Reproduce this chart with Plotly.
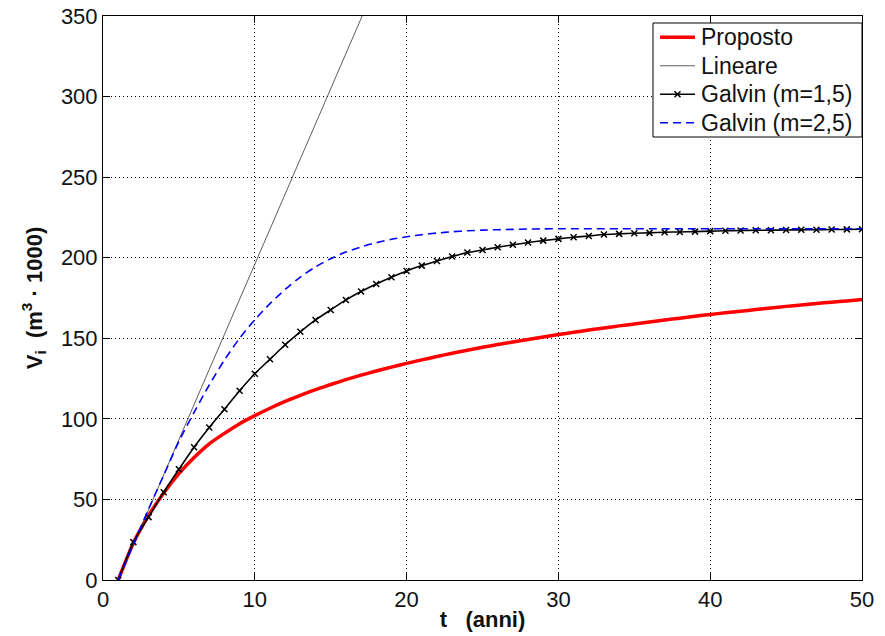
import plotly.graph_objects as go

# ---- data ----
t_years = list(range(1, 51))

proposto = [0, 23, 40, 54, 66, 76, 84.5, 91, 97, 102,
            106.6, 110.8, 114.6, 118.1, 121.3, 124.3, 127.1, 129.7, 132.1, 134.4,
            136.6, 138.7, 140.7, 142.6, 144.4, 146.1, 147.7, 149.3, 150.8, 152.3,
            153.7, 155.1, 156.4, 157.7, 158.9, 160.1, 161.3, 162.5, 163.7, 164.8,
            165.8, 166.8, 167.8, 168.8, 169.8, 170.7, 171.6, 172.4, 173.2, 174.0]

lin_t = [1, 50]
lin_v = [0, 1067]

galvin_15 = [0, 23.5, 39, 54.5, 68.7, 82.4, 94.6, 106, 117.5, 128,
             137, 146, 154, 161.4, 167.6, 173.8, 179, 183.7, 187.9, 191.8,
             195.1, 198, 200.7, 203.2, 204.8, 206.5, 208, 209.4, 210.6, 211.7,
             212.7, 213.5, 214.4, 214.8, 215.2, 215.4, 215.8, 216, 216.2, 216.5,
             216.7, 216.9, 217, 217.1, 217.2, 217.3, 217.4, 217.5, 217.6, 217.7]

galvin_25 = [0, 22, 44, 65, 86, 104, 121, 136.5, 150, 161.5,
             171.5, 180.3, 188, 194.3, 199.4, 203.5, 206.7, 209.3, 211.4, 213,
             214.3, 215.3, 216.1, 216.7, 217.1, 217.4, 217.6, 217.8, 217.9, 218,
             218, 218, 218, 218, 218, 218, 218, 218, 218, 218,
             218, 218, 218, 218, 218, 218, 218, 218, 218, 218]

series_names = ["Proposto", "Lineare", "Galvin (m=1,5)", "Galvin (m=2,5)"]

x_ticks = [0, 10, 20, 30, 40, 50]
y_ticks = [0, 50, 100, 150, 200, 250, 300, 350]

FONT = "Liberation Sans, Arial, sans-serif"
W, H = 885, 636
ML, MR, MT, MB = 103, 23, 16, 56
PW, PH = W - ML - MR, H - MT - MB

def px(xp):  # page pixel -> paper x
    return (xp - ML) / PW

def py(yp):  # page pixel -> paper y
    return (H - MB - yp) / PH

styles = [
    dict(color="#ff0000", width=3.5, dash="solid"),
    dict(color="#333333", width=0.8, dash="solid"),
    dict(color="black", width=1.6, dash="solid"),
    dict(color="#0000ff", width=1.6, dash="8px,5px"),
]

fig = go.Figure()
fig.add_trace(go.Scatter(x=t_years, y=proposto, mode="lines", name=series_names[0],
                         line=dict(**styles[0], shape="spline", smoothing=0.6)))
fig.add_trace(go.Scatter(x=lin_t, y=lin_v, mode="lines", name=series_names[1],
                         line=dict(**styles[1])))
fig.add_trace(go.Scatter(x=t_years, y=galvin_15, mode="lines+markers", name=series_names[2],
                         line=dict(**styles[2], shape="spline", smoothing=0.6),
                         marker=dict(symbol="x-thin", size=6, color="black",
                                     line=dict(color="black", width=1.5))))
fig.add_trace(go.Scatter(x=t_years, y=galvin_25, mode="lines", name=series_names[3],
                         line=dict(**styles[3], shape="spline", smoothing=0.8)))

axis_common = dict(
    showline=True, linecolor="black", linewidth=1, mirror="ticks",
    ticks="inside", ticklen=7, tickwidth=1, tickcolor="black",
    showgrid=True, gridcolor="black", gridwidth=1, griddash="1px,3px",
    zeroline=False, automargin=False,
    tickfont=dict(family=FONT, size=22, color="#111111"),
)

fig.update_xaxes(range=[0, 50], tickvals=x_ticks, **axis_common,
                 title=dict(text="<b>t   (anni)</b>", font=dict(family=FONT, size=22, color="#111111"),
                            standoff=0))
fig.update_yaxes(range=[0, 350], tickvals=y_ticks, **axis_common,
                 title=dict(text="<b>V<sub>i</sub>  (m<sup>3</sup> · 1000)</b>",
                            font=dict(family=FONT, size=22, color="#111111"),
                            standoff=12))

# ---- manual legend (MATLAB-style box) ----
box_l, box_r, box_t, box_b = 653, 862, 23, 137
shapes = [dict(type="rect", xref="paper", yref="paper",
               x0=px(box_l), x1=px(box_r), y0=py(box_b), y1=py(box_t),
               line=dict(color="black", width=1), fillcolor="white", layer="above")]
annotations = []
row_h = (box_b - box_t) / len(series_names)
for i, (name, st) in enumerate(zip(series_names, styles)):
    yc = box_t + row_h * (i + 0.5)
    shapes.append(dict(type="line", xref="paper", yref="paper",
                       x0=px(660), x1=px(695), y0=py(yc), y1=py(yc), layer="above",
                       line=dict(color=st["color"], width=st["width"], dash=st["dash"])))
    if i == 2:
        xm = 677.5
        for dx, dy in [(-3, -3), (-3, 3)]:
            shapes.append(dict(type="line", xref="paper", yref="paper", layer="above",
                               x0=px(xm + dx), x1=px(xm - dx), y0=py(yc + dy), y1=py(yc - dy),
                               line=dict(color="black", width=1.5)))
    annotations.append(dict(text=name, xref="paper", yref="paper",
                            x=px(699), y=py(yc), xanchor="left", yanchor="middle",
                            showarrow=False,
                            font=dict(family=FONT, size=23, color="#111111")))

fig.update_layout(
    width=W, height=H,
    margin=dict(l=ML, r=MR, t=MT, b=MB),
    paper_bgcolor="white", plot_bgcolor="white",
    showlegend=False,
    shapes=shapes, annotations=annotations,
)

fig.write_html("out.html")
